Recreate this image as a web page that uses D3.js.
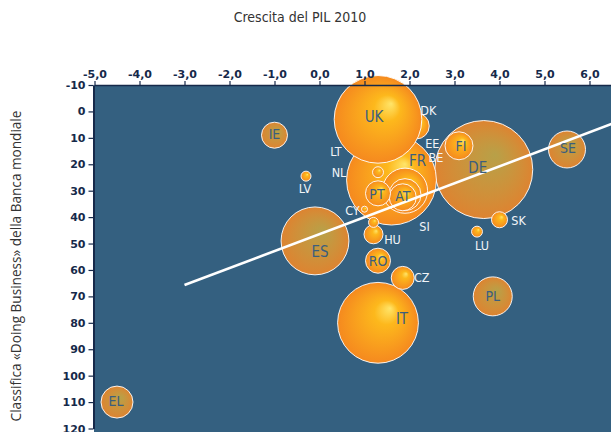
<!DOCTYPE html>
<html><head><meta charset="utf-8">
<script src="https://cdn.jsdelivr.net/npm/d3@7"></script>
<style>body{margin:0;background:#fff}</style>
</head><body><svg id="c" width="611" height="432"></svg>
<script>
// ---- data (draw order) ----
const codes  = ["EE","DE","FR","DK","UK","IT","ES","NL","BE","AT","PT","LT","FI","SE","PL","EL","IE","CZ","RO","HU","SK","LU","SI","LV","CY"];
const growth = [1.75,3.65,1.6,2.15,1.3,1.3,-0.1,1.9,1.9,1.85,1.3,1.3,3.1,5.5,3.85,-4.5,-1.0,1.85,1.3,1.2,4.0,3.5,1.2,-0.3,1.0];
const rank   = [14,22,26,5.5,3,80,49,30,31.5,32.5,31,23,13,14.4,70,110,9,63,56.5,46.5,41,45.5,42,24.5,37];
const gdp    = [14,2500,2100,176,2000,1700,1200,530,267,190,163,31,204,356,396,267,176,138,163,94,67,31,26,26,9.4];
const mutedSet = ["DE","ES","SE","PL","EL","IE"];
const darkLabels = ["UK","FR","FI","DE","SE","IE","PT","AT","ES","RO","PL","IT","EL"];
const bigLabels = ["UK","FR","DE","IT","ES"];
const xTicks = [-5,-4,-3,-2,-1,0,1,2,3,4,5,6];
const yTicks = [-10,0,10,20,30,40,50,60,70,80,90,100,110,120];
const trendX = [-3.0, 6.5];
const trendY = [65.7, 4.7];
const title = "Crescita del PIL 2010";
const yTitle = "Classifica «Doing Business» della Banca mondiale";

// ---- layout ----
const labelOffset = {UK:[-4,-2],DK:[12,-15],EE:[34,-5],BE:[31,-37],FR:[26,-19],FI:[2,0],DE:[-6,-2],
  SE:[1,-1],LT:[-42,-21],NL:[-66,-18],LV:[-1,12],IE:[0,-1],PT:[-1,1],AT:[0,-1],CY:[-12,1],
  SI:[51,4],HU:[19,5],ES:[5,11],RO:[0,0],CZ:[19,0],SK:[19,1],LU:[5,14],PL:[0,0],IT:[24,-4],EL:[-1,-1]};

const svg = d3.select("#c");
const x = d3.scaleLinear().domain([-5,6.5]).range([94.5,612]);
const y = d3.scaleLinear().domain([-10,120]).range([85,428.5]);
const r = d3.scaleSqrt().domain([0,2500]).range([0,49]);

const defs = svg.append("defs");
const g1 = defs.append("radialGradient").attr("id","bright").attr("cx","0.5").attr("cy","0.5").attr("r","0.5").attr("fx","0.65").attr("fy","0.32");
g1.append("stop").attr("offset","0").attr("stop-color","#ffe56a");
g1.append("stop").attr("offset","0.3").attr("stop-color","#fdb81c");
g1.append("stop").attr("offset","1").attr("stop-color","#f5891f");
const g2 = defs.append("radialGradient").attr("id","muted").attr("cx","0.5").attr("cy","0.5").attr("r","0.5").attr("fx","0.62").attr("fy","0.35");
g2.append("stop").attr("offset","0").attr("stop-color","rgb(235,185,50)").attr("stop-opacity",0.72);
g2.append("stop").attr("offset","1").attr("stop-color","rgb(240,135,40)").attr("stop-opacity",0.9);

// plot background
svg.append("rect").attr("x",94).attr("y",85).attr("width",611-94).attr("height",432-85).attr("fill","#346080");

const data = codes.map((c,i)=>({c, gx:growth[i], rk:rank[i], g:gdp[i]}));

svg.append("g").selectAll("circle").data(data).join("circle")
  .attr("cx",d=>x(d.gx)).attr("cy",d=>y(d.rk)).attr("r",d=>r(d.g))
  .attr("fill",d=>mutedSet.includes(d.c)?"url(#muted)":"url(#bright)")
  .attr("stroke","#ffffff").attr("stroke-opacity",0.9).attr("stroke-width",1);

// trend line
svg.append("line").attr("x1",x(trendX[0])).attr("y1",y(trendY[0])).attr("x2",x(trendX[1])).attr("y2",y(trendY[1]))
  .attr("stroke","#fff").attr("stroke-width",2.6);

// labels
svg.append("g").selectAll("text").data(data).join("text")
  .attr("x",d=>x(d.gx)+labelOffset[d.c][0]).attr("y",d=>y(d.rk)+labelOffset[d.c][1])
  .attr("text-anchor","middle").attr("dominant-baseline","central")
  .attr("font-family","'DejaVu Sans Condensed','DejaVu Sans',sans-serif")
  .attr("font-size",d=>bigLabels.includes(d.c)?15:(darkLabels.includes(d.c)?14:12.5))
  .attr("fill",d=>darkLabels.includes(d.c)?"#3b5e7e":"#f2f5f8")
  .text(d=>d.c);

// axes
const fmt = d=>d3.format(".1f")(d).replace(".",",").replace("\u2212","-");
const ax = svg.append("g").attr("transform","translate(0,85)")
  .call(d3.axisTop(x).tickValues(xTicks).tickFormat(fmt).tickSize(4).tickSizeOuter(0).tickPadding(3));
const ay = svg.append("g").attr("transform","translate(93.5,0)")
  .call(d3.axisLeft(y).tickValues(yTicks).tickFormat(d=>String(d)).tickSize(5).tickSizeOuter(0).tickPadding(3));
[ax,ay].forEach(a=>{
  a.selectAll("text").attr("font-family","'DejaVu Sans',sans-serif").attr("font-weight","bold").attr("font-size",11).attr("fill","#16294a");
  a.selectAll("line").attr("stroke","#16294a").attr("stroke-width",1.2);
  a.select(".domain").attr("stroke","#16294a");
});
ax.select(".domain").attr("stroke-width",1.5);
ay.select(".domain").attr("stroke-width",2);

// titles
svg.append("text").attr("x",300).attr("y",22).attr("text-anchor","middle")
  .attr("font-family","'Liberation Sans Narrow','DejaVu Sans Condensed',sans-serif").attr("font-size",14).attr("fill","#333")
  .text(title);
svg.append("text").attr("transform","translate(21,266) rotate(-90)").attr("text-anchor","middle")
  .attr("font-family","'Open Sans',sans-serif").attr("font-size",13.6).attr("fill","#333")
  .text(yTitle);
</script></body></html>
